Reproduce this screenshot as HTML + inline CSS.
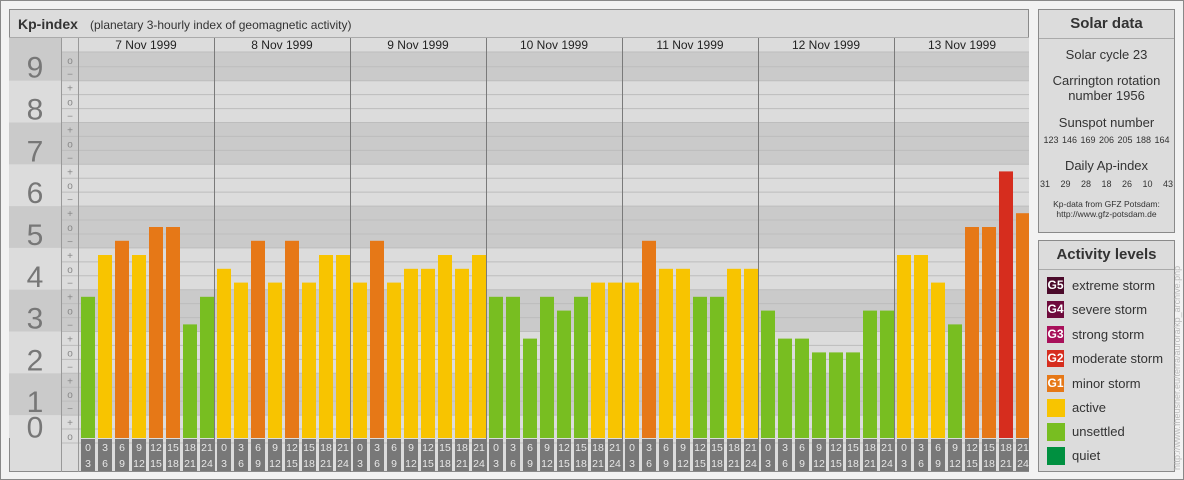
<!DOCTYPE html>
<html><head><meta charset="utf-8"><style>
body{margin:0;width:1184px;height:480px;overflow:hidden;background:#f2f2f2;font-family:"Liberation Sans",sans-serif}
#frame{position:absolute;left:0;top:0;width:1182px;height:478px;border:1px solid #888}
.panel{position:absolute;background:#dcdcdc;border:1px solid #8a8a8a;box-sizing:border-box}
.ptitle{height:28px;border-bottom:1px solid #aaa;font-weight:bold;font-size:15px;color:#333;text-align:center;line-height:28px}
.sd{text-align:center;color:#333;font-size:13px}
.leg{position:absolute;left:8px;font-size:13px;color:#333}
.sw{position:absolute;left:0;top:0;width:17px;height:17px;color:#fff;font-size:12px;font-weight:bold;line-height:17px;text-align:center}
.leg span.t{position:absolute;left:25px;top:0;white-space:nowrap;line-height:17px}
</style></head><body>
<div id="frame"></div>
<div class="panel" style="left:9px;top:9px;width:1020px;height:463px">
<svg id="chart" width="1020" height="463" style="position:absolute;left:-1px;top:-1px"></svg>
</div>
<div class="panel" style="left:1038px;top:9px;width:137px;height:224px">
<div class="ptitle">Solar data</div>
<div class="sd" style="margin-top:8px">Solar cycle 23</div>
<div class="sd" style="margin-top:11px;line-height:15px">Carrington rotation<br>number 1956</div>
<div class="sd" style="margin-top:12px">Sunspot number</div>
<div class="sd" style="font-size:9px;margin-top:5px;word-spacing:1px">123 146 169 206 205 188 164</div>
<div class="sd" style="margin-top:13px">Daily Ap-index</div>
<div class="sd" style="font-size:9px;margin-top:6px;word-spacing:8px">31 29 28 18 26 10 43</div>
<div class="sd" style="font-size:8.5px;margin-top:10px;line-height:10px">Kp-data from GFZ Potsdam:<br>http://www.gfz-potsdam.de</div>
</div>
<div class="panel" style="left:1038px;top:240px;width:137px;height:232px">
<div class="ptitle">Activity levels</div>
<div class="leg" style="top:36px"><div class="sw" style="background:#4a0a2a">G5</div><span class="t">extreme storm</span></div>
<div class="leg" style="top:60px"><div class="sw" style="background:#6e0a3c">G4</div><span class="t">severe storm</span></div>
<div class="leg" style="top:85px"><div class="sw" style="background:#a8105a">G3</div><span class="t">strong storm</span></div>
<div class="leg" style="top:109px"><div class="sw" style="background:#d62d1e">G2</div><span class="t">moderate storm</span></div>
<div class="leg" style="top:134px"><div class="sw" style="background:#e67817">G1</div><span class="t">minor storm</span></div>
<div class="leg" style="top:158px"><div class="sw" style="background:#f8c400;width:18px;height:18px"></div><span class="t">active</span></div>
<div class="leg" style="top:182px"><div class="sw" style="background:#78be21;width:18px;height:18px"></div><span class="t">unsettled</span></div>
<div class="leg" style="top:206px"><div class="sw" style="background:#009040;width:18px;height:18px"></div><span class="t">quiet</span></div>
</div>
<div style="position:absolute;left:1172px;top:470px;transform:rotate(-90deg);transform-origin:0 0;font-size:9px;color:#bbb;white-space:nowrap">http://www.fheusner.eu/terra/aurora/kp_archive.php</div>
<script>
const days=["7 Nov 1999","8 Nov 1999","9 Nov 1999","10 Nov 1999","11 Nov 1999","12 Nov 1999","13 Nov 1999"];
const kpValues=[
3.33,4.33,4.67,4.33,5,5,2.67,3.33,
4,3.67,4.67,3.67,4.67,3.67,4.33,4.33,
3.67,4.67,3.67,4,4,4.33,4,4.33,
3.33,3.33,2.33,3.33,3,3.33,3.67,3.67,
3.67,4.67,4,4,3.33,3.33,4,4,
3,2.33,2.33,2,2,2,3,3,
4.33,4.33,3.67,2.67,5,5,6.33,5.33];
const startHours=["0","3","6","9","12","15","18","21"];
const endHours=["3","6","9","12","15","18","21","24"];
const kpLabels=["9","8","7","6","5","4","3","2","1","0"];
const svg=document.getElementById('chart');
const NS="http://www.w3.org/2000/svg";
// chart geometry (svg coords = page - 8)
const X0=69,DAYW=136,SLOT=17,BASE=427,UNIT=41.8,ROWH=UNIT/3;
function yK(v){return BASE-v*UNIT;}
function el(t,a,txt){const e=document.createElementNS(NS,t);for(const k in a)e.setAttribute(k,a[k]);if(txt!==undefined)e.textContent=txt;svg.appendChild(e);return e;}
// title
let t=el('text',{x:9,y:20,'font-size':14,'font-weight':'bold',fill:'#333'},'Kp-index');


t=el('text',{x:81,y:20,'font-size':12,fill:'#333'},'(planetary 3-hourly index of geomagnetic activity)');


el('line',{x1:0,y1:28.5,x2:1020,y2:28.5,stroke:'#aaa'});
// bands
const RIGHT=1020;
for(let k=9;k>=0;k--){
  const top=k==9?29:yK(k+1/3)-ROWH/2+ROWH/2-0; 
}
// each integer band spans from yK(k-1/3)+ROWH/2 to yK(k+1/3)-ROWH/2
for(let k=9;k>=0;k--){
  const y1=k==9?29:yK(k+2/3)+ROWH/2;
  const y2=k==0?BASE+2:yK(k-2/3)+ROWH/2;
  const fill=(k%2==1)?'#cacaca':'#dcdcdc';
  let r=el('rect',{x:0,y:y1,width:RIGHT,height:y2-y1,fill:fill});
  
  
  let tx=el('text',{x:26,y:(y1+y2)/2+11,'font-size':30,fill:'#777','text-anchor':'middle'},kpLabels[9-k]);
  
  
}
// header row for dates
el('rect',{x:52,y:29,width:RIGHT-52,height:14,fill:'#dcdcdc'});
// row lines and sub labels
const subs=['−','o','+'];
for(let i=0;i<28;i++){
  const v=9-i/3; // row center value from 9o down
  const yc=yK(v);
  el('line',{x1:52,y1:yc+ROWH/2,x2:RIGHT,y2:yc+ROWH/2,stroke:'#bdbdbd','stroke-width':1});
  const s=['o','−','+'][i%3];
  let tx=el('text',{x:61,y:yc+4,'font-size':10,fill:'#888','text-anchor':'middle'},s);
  
  
}
el('line',{x1:52,y1:43,x2:RIGHT,y2:43,stroke:'#bdbdbd'});
el('line',{x1:52.5,y1:29,x2:52.5,y2:463,stroke:'#999'});
el('line',{x1:69.5,y1:29,x2:69.5,y2:463,stroke:'#999'});
// days
days.forEach((d,i)=>{
  const x=X0+i*DAYW;
  let tx=el('text',{x:x+DAYW/2,y:40,'font-size':12,fill:'#222','text-anchor':'middle'},d);
  
  
  if(i>0){el('line',{x1:x+0.5,y1:29,x2:x+0.5,y2:463,stroke:'#7a7a7a'});}
});
// bars
function col(v){if(v>=6)return '#d62d1e';if(v>=4.67)return '#e67817';if(v>=3.67)return '#f8c400';if(v>=2.67)return '#78be21';return '#78be21';}
kpValues.forEach((v,i)=>{
  const d=Math.floor(i/8),s=i%8;
  const x=X0+d*DAYW+s*SLOT+3;
  const y=yK(v);
  let r=el('rect',{x:x,y:y,width:14,height:BASE+2-y,fill:col(v)});
  
  
  let b=el('rect',{x:x,y:BASE+3,width:14,height:32,fill:'#787878'});
  
  
  el('text',{x:x+7,y:BASE+15,'font-size':10.5,fill:'#e8e8e8','text-anchor':'middle'},startHours[s]);
  el('text',{x:x+7,y:BASE+31,'font-size':10.5,fill:'#e8e8e8','text-anchor':'middle'},endHours[s]);
});
</script>
</body></html>
